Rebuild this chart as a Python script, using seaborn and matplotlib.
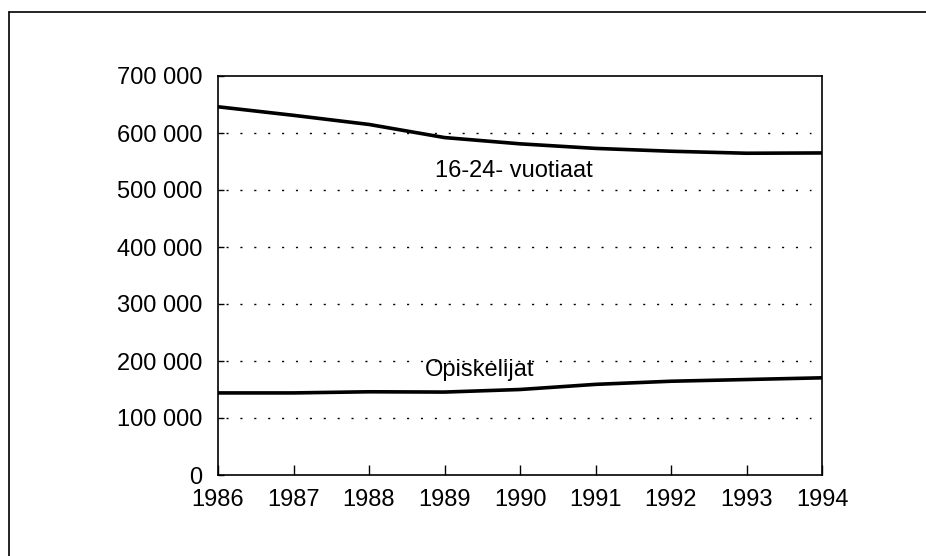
import numpy as np
import pandas as pd
import matplotlib
matplotlib.use("Agg")
import matplotlib.pyplot as plt
import matplotlib.ticker as mticker
from matplotlib.lines import Line2D
import seaborn as sns

# Vuodet ja sarjat (luettu kuvasta)
vuodet = [1986, 1987, 1988, 1989, 1990, 1991, 1992, 1993, 1994]
nuoret = [646000, 631000, 615000, 592000, 581000, 573000, 568000, 564500, 565000]
opiskelijat = [144000, 144000, 146000, 145500, 150000, 159000, 164500, 167500, 170500]
y_ticks = [0, 100000, 200000, 300000, 400000, 500000, 600000, 700000]

df = pd.DataFrame({
    "vuosi": vuodet * 2,
    "arvo": nuoret + opiskelijat,
    "sarja": ["16-24- vuotiaat"] * len(vuodet) + ["Opiskelijat"] * len(vuodet),
})

sns.set_theme(style="white")
plt.rcParams["font.family"] = ["Liberation Sans", "DejaVu Sans"]
plt.rcParams["text.color"] = "black"

fig = plt.figure(figsize=(9.26, 5.56), dpi=100)
ax = fig.add_axes([218 / 926, 1 - 475 / 556, (822 - 218) / 926, (475 - 76) / 556])

sns.lineplot(data=df, x="vuosi", y="arvo", hue="sarja",
             palette=["black", "black"], linewidth=2.6, legend=False, ax=ax)

ax.set_xlim(1986, 1994)
ax.set_ylim(0, 700000)
ax.set_xticks(vuodet)
ax.set_yticks(y_ticks)
ax.yaxis.set_major_formatter(
    mticker.FuncFormatter(lambda v, p: "0" if v == 0 else f"{int(v):,}".replace(",", " ")))
ax.set_xlabel("")
ax.set_ylabel("")

# Pisteviivaiset apuviivat
for v in y_ticks[1:-1]:
    ax.plot([1986.1, 1993.85], [v, v], color="black", linestyle=(0, (1.5, 8.5)),
            linewidth=1.0, zorder=0)

for s in ax.spines.values():
    s.set_color("black")
    s.set_linewidth(1.2)

ax.tick_params(axis="x", direction="in", length=7, width=1, colors="black",
               labelsize=17, pad=10, bottom=True)
ax.tick_params(axis="y", direction="in", length=4, width=1, colors="black",
               labelsize=17, pad=11, left=True)

ax.text(1989.92, 533000, "16-24- vuotiaat", fontsize=17, color="black",
        ha="center", va="center")
ax.text(1989.47, 184000, "Opiskelijat", fontsize=17, color="black",
        ha="center", va="center")

# Kehys vasemmalla ja ylhäällä
fig.add_artist(Line2D([9 / 926, 9 / 926], [0, 1 - 12 / 556], color="black",
                      linewidth=1.2, transform=fig.transFigure))
fig.add_artist(Line2D([9 / 926, 1], [1 - 12 / 556, 1 - 12 / 556], color="black",
                      linewidth=1.2, transform=fig.transFigure))

fig.savefig("out.png", dpi=100)
